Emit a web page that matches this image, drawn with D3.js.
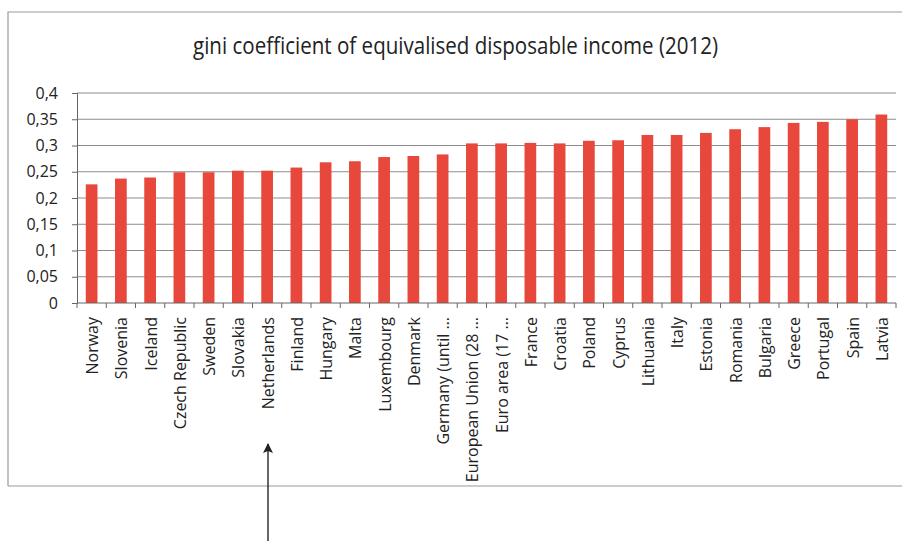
<!DOCTYPE html>
<html><head><meta charset="utf-8">
<script src="https://cdn.jsdelivr.net/npm/d3@7"></script>
<style>body{margin:0;background:#fff}svg{display:block}</style>
</head><body>
<script>
const categories = ["Norway","Slovenia","Iceland","Czech Republic","Sweden","Slovakia","Netherlands","Finland","Hungary","Malta","Luxembourg","Denmark","Germany (until …","European Union (28 …","Euro area (17 …","France","Croatia","Poland","Cyprus","Lithuania","Italy","Estonia","Romania","Bulgaria","Greece","Portugal","Spain","Latvia"];
const values = [0.226,0.237,0.239,0.249,0.249,0.252,0.252,0.258,0.268,0.270,0.278,0.280,0.283,0.304,0.304,0.305,0.304,0.309,0.310,0.320,0.320,0.324,0.331,0.335,0.343,0.345,0.350,0.359];
const yTicks = [0,0.05,0.1,0.15,0.2,0.25,0.3,0.35,0.4];
const yTickLabels = ["0","0,05","0,1","0,15","0,2","0,25","0,3","0,35","0,4"];
const title = "gini coefficient of equivalised disposable income (2012)";

const W = 902, H = 541;
const svg = d3.select("body").append("svg").attr("width", W).attr("height", H);

// frame
svg.append("path").attr("d","M8,486 L8,12 L902,12").attr("fill","none").attr("stroke","#9a9a9a").attr("stroke-width",1.2);
svg.append("line").attr("x1",8).attr("x2",902).attr("y1",486).attr("y2",486).attr("stroke","#9a9a9a").attr("stroke-width",1.2);

svg.append("text").attr("x",193).attr("y",54)
  .attr("textLength",525).attr("lengthAdjust","spacingAndGlyphs")
  .attr("font-family","'Open Sans',sans-serif")
  .attr("font-size",24).attr("fill","#222").text(title);

const x = d3.scaleBand().domain(categories).range([77, 896]).paddingInner(0.6).paddingOuter(0.3);
const y = d3.scaleLinear().domain([0, 0.4]).range([303, 93]);

// gridlines
svg.append("g").selectAll("line").data(yTicks.slice(1)).join("line")
  .attr("x1",77).attr("x2",896).attr("y1",d=>y(d)).attr("y2",d=>y(d))
  .attr("stroke","#8c8c8c").attr("stroke-width",1);

// bars
svg.append("g").selectAll("rect").data(values).join("rect")
  .attr("x",(d,i)=>x(categories[i])).attr("width",x.bandwidth())
  .attr("y",d=>y(d)).attr("height",d=>y(0)-y(d)).attr("fill","#e8473b");

// y axis
const yAxis = d3.axisLeft(y).tickValues(yTicks).tickFormat((d,i)=>yTickLabels[i]).tickSize(5).tickPadding(14);
const gy = svg.append("g").attr("transform","translate(77,0)").call(yAxis);
gy.select(".domain").attr("stroke","#666");
gy.selectAll(".tick line").attr("stroke","#666");
gy.selectAll("text").attr("font-family","'Open Sans',sans-serif").attr("font-size",16).attr("fill","#222");

// x axis with ticks at band boundaries
const boundaries = d3.range(categories.length + 1).map(i => 77 + i * (896 - 77) / categories.length);
const gx = svg.append("g");
gx.append("line").attr("x1",77).attr("x2",896).attr("y1",303).attr("y2",303).attr("stroke","#666");
gx.selectAll("line.t").data(boundaries).join("line").attr("class","t")
  .attr("x1",d=>d).attr("x2",d=>d).attr("y1",303).attr("y2",308).attr("stroke","#666");
gx.selectAll("text").data(categories).join("text")
  .attr("transform",d=>`translate(${x(d)+x.bandwidth()/2+1},317) rotate(-90)`)
  .attr("text-anchor","end").attr("dy","0.35em")
  .attr("font-family","'Open Sans',sans-serif").attr("font-size",16).attr("fill","#222")
  .text(d=>d);

// arrow
svg.append("defs").append("marker").attr("id","ah").attr("viewBox","0 0 10 10")
  .attr("refX",9).attr("refY",5).attr("markerWidth",10).attr("markerHeight",10).attr("markerUnits","userSpaceOnUse")
  .attr("orient","auto").append("path").attr("d","M0,0 L10,5 L0,10 L2,5 Z").attr("fill","#222");
svg.append("line").attr("x1",268).attr("x2",268).attr("y1",541).attr("y2",444)
  .attr("stroke","#333").attr("stroke-width",1.5).attr("marker-end","url(#ah)");
</script>
</body></html>
